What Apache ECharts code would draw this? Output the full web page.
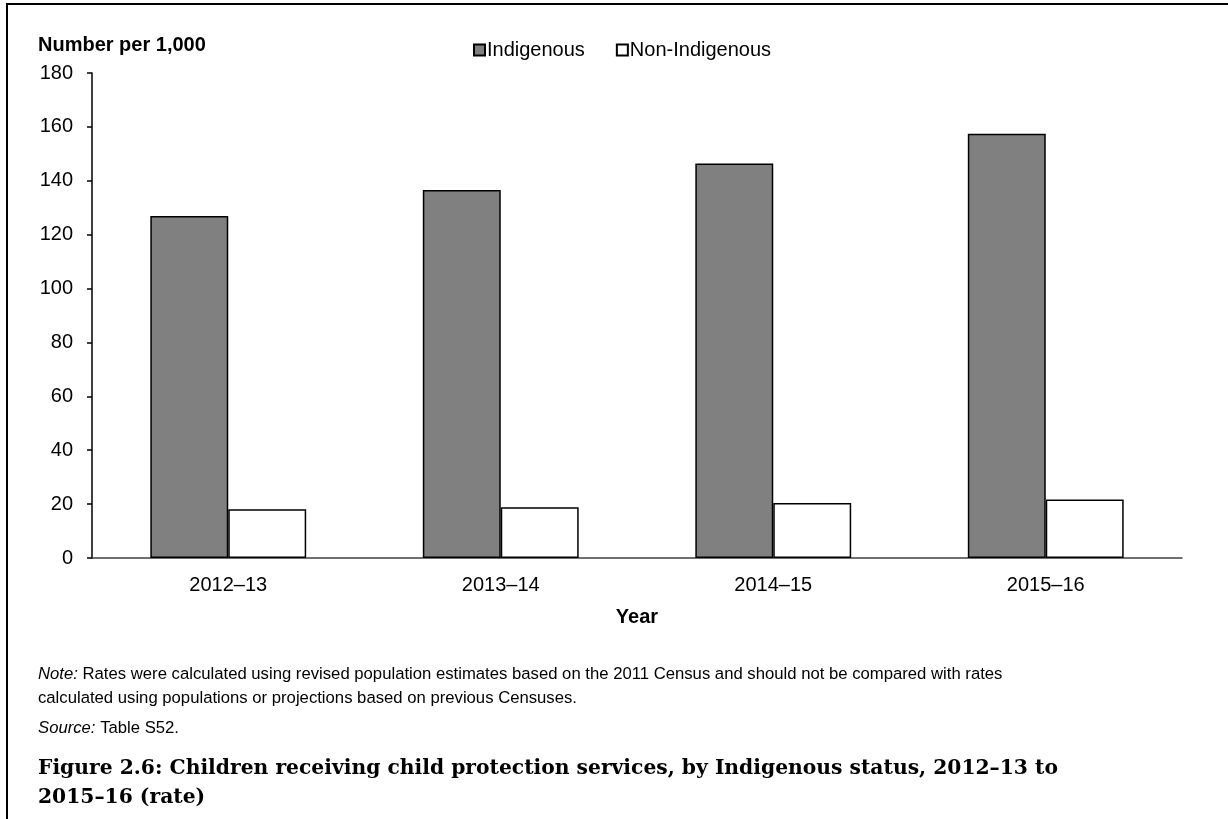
<!DOCTYPE html>
<html>
<head>
<meta charset="utf-8">
<title>Children receiving child protection services, by Indigenous status</title>
<script src="https://cdn.jsdelivr.net/npm/echarts@6/dist/echarts.min.js"></script>
<style>
  html, body { margin: 0; padding: 0; background: #fff; }
  #chart { width: 1228px; height: 819px; }
</style>
</head>
<body>
<div id="chart"></div>
<script>
// Financial years on the category axis
const years = ['2012\u201313', '2013\u201314', '2014\u201315', '2015\u201316'];
// Rate per 1,000 children
const indigenous = [126.9, 136.6, 146.4, 157.5];
const nonIndigenous = [18.1, 18.8, 20.4, 21.7];
const seriesNames = ['Indigenous', 'Non-Indigenous'];
const yTicks = { min: 0, max: 180, step: 20 };

const FONT = '"Liberation Sans", Arial, sans-serif';
const SERIF = '"DejaVu Serif", "Liberation Serif", serif';

const chart = echarts.init(document.getElementById('chart'), null, { renderer: 'canvas' });

chart.setOption({
  backgroundColor: '#ffffff',
  animation: false,
  textStyle: { fontFamily: FONT },
  grid: { left: 92, right: 46, top: 73, bottom: 261, containLabel: false },
  legend: {
    left: 468,
    top: 35,
    itemWidth: 11,
    itemHeight: 11,
    itemGap: 31,
    icon: 'rect',
    data: seriesNames,
    textStyle: { fontFamily: FONT, fontSize: 20, color: '#000', padding: [0, 0, 0, -3] }
  },
  xAxis: {
    type: 'category',
    data: years,
    name: 'Year',
    nameLocation: 'middle',
    nameGap: 49,
    nameTextStyle: { fontFamily: FONT, fontSize: 20, fontWeight: 'bold', color: '#000' },
    axisLine: { show: true, lineStyle: { color: '#404040', width: 1.5 } },
    axisTick: { show: false },
    axisLabel: { fontFamily: FONT, fontSize: 20, color: '#000', margin: 17 },
    splitLine: { show: false }
  },
  yAxis: {
    type: 'value',
    min: yTicks.min,
    max: yTicks.max,
    interval: yTicks.step,
    axisLine: { show: true, lineStyle: { color: '#000', width: 1.5 } },
    axisTick: { show: true, inside: false, length: 5, lineStyle: { color: '#000', width: 1.5 } },
    axisLabel: { fontFamily: FONT, fontSize: 20, color: '#000', margin: 19 },
    splitLine: { show: false }
  },
  series: [
    {
      name: seriesNames[0],
      type: 'bar',
      data: indigenous,
      barGap: '0%',
      barCategoryGap: '42.8%',
      itemStyle: { color: '#808080', borderColor: '#000', borderWidth: 1.5 }
    },
    {
      name: seriesNames[1],
      type: 'bar',
      data: nonIndigenous,
      barGap: '0%',
      barCategoryGap: '42.8%',
      itemStyle: { color: '#ffffff', borderColor: '#000', borderWidth: 1.5 }
    }
  ],
  graphic: [
    // frame: top and left edges
    { type: 'line', shape: { x1: 6, y1: 4, x2: 1228, y2: 4 }, style: { stroke: '#000', lineWidth: 2 } },
    { type: 'line', shape: { x1: 7, y1: 3, x2: 7, y2: 819 }, style: { stroke: '#000', lineWidth: 2 } },
    // value axis heading
    {
      type: 'text', left: 38, top: 35,
      style: { text: 'Number per 1,000', fontFamily: FONT, fontSize: 20, fontWeight: 'bold', fill: '#000' }
    },
    // note
    {
      type: 'text', left: 38, top: 662,
      style: {
        text: '{i|Note:} Rates were calculated using revised population estimates based on the 2011 Census and should not be compared with rates\ncalculated using populations or projections based on previous Censuses.',
        fontFamily: FONT, fontSize: 16.7, fill: '#000', lineHeight: 24,
        rich: { i: { fontStyle: 'italic', fontFamily: FONT, fontSize: 16.7, fill: '#000' } }
      }
    },
    {
      type: 'text', left: 38, top: 720,
      style: {
        text: '{i|Source:} Table S52.',
        fontFamily: FONT, fontSize: 16.7, fill: '#000',
        rich: { i: { fontStyle: 'italic', fontFamily: FONT, fontSize: 16.7, fill: '#000' } }
      }
    },
    // figure caption
    {
      type: 'text', left: 38, top: 754,
      style: {
        text: 'Figure 2.6: Children receiving child protection services, by Indigenous status, 2012\u201313 to\n2015\u201316 (rate)',
        fontFamily: SERIF, fontSize: 20.3, fontWeight: 'bold', fill: '#000', lineHeight: 29
      }
    }
  ]
});
</script>
</body>
</html>
